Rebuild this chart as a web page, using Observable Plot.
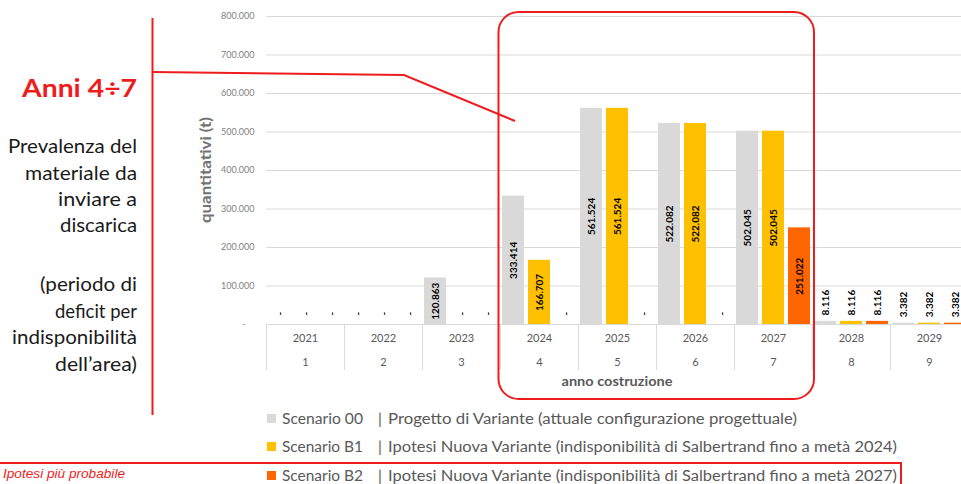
<!DOCTYPE html>
<html>
<head>
<meta charset="utf-8">
<script src="https://cdn.jsdelivr.net/npm/d3@7"></script>
<script src="https://cdn.jsdelivr.net/npm/@observablehq/plot@0.6"></script>
<style>
  html, body { margin: 0; padding: 0; background: #fff; overflow: hidden; width: 961px; height: 484px; }
  #wrap { position: relative; width: 961px; height: 484px; overflow: hidden; font-family: Lato, sans-serif; }
  #chart { position: absolute; left: 0; top: 0; width: 972px; }
  #chart svg { max-width: none !important; }
  #overlay { position: absolute; left: 0; top: 0; pointer-events: none; }
</style>
</head>
<body>
<div id="wrap">
  <div id="chart"></div>
  <svg id="overlay" width="961" height="484"></svg>
</div>
<script>
// ---------- data ----------
const years = ["2021", "2022", "2023", "2024", "2025", "2026", "2027", "2028", "2029"];
const yearIndex = ["1", "2", "3", "4", "5", "6", "7", "8", "9"];
const scenarios = ["Scenario 00", "Scenario B1", "Scenario B2"];
const scenarioDesc = [
  "Progetto di Variante (attuale configurazione progettuale)",
  "Ipotesi Nuova Variante (indisponibilità di Salbertrand fino a metà 2024)",
  "Ipotesi Nuova Variante (indisponibilità di Salbertrand fino a metà 2027)"
];
const colors = ["#d9d9d9", "#ffc000", "#ff6600"];
const s00 = [0, 0, 120863, 333414, 561524, 522082, 502045, 8116, 3382];
const sB1 = [0, 0, 0, 166707, 561524, 522082, 502045, 8116, 3382];
const sB2 = [0, 0, 0, 0, 0, 0, 251022, 8116, 3382];
const yTicks = [0, 100000, 200000, 300000, 400000, 500000, 600000, 700000, 800000];
const highlightYears = ["2024", "2027"];
const yLabel = "quantitativi (t)";
const xLabel = "anno costruzione";
const noteTitle = "Anni 4÷7";
const noteLines = ["Prevalenza del", "materiale da", "inviare a", "discarica", "", "(periodo di", "deficit per", "indisponibilità", "dell’area)"];
const probableNote = "Ipotesi più probabile";

const series = [s00, sB1, sB2];
const data = years.flatMap((yr, i) => series.map((arr, j) => ({year: yr, scenario: scenarios[j], value: arr[i]})));

const it = d3.formatLocale({decimal: ",", thousands: ".", grouping: [3], currency: ["€", ""]});
const fmt = it.format(",d");

// ---------- chart ----------
const W = 972, H = 400, ML = 262, MR = 0, MT = 16, MB = 76;
const lbl = {fx: "year", x: "scenario", rotate: -90, fontSize: 10, fontWeight: "bold", fill: "#000"};

const plot = Plot.plot({
  width: W, height: H,
  marginLeft: ML, marginRight: MR, marginTop: MT, marginBottom: MB,
  style: {fontFamily: "Lato, sans-serif", background: "transparent", overflow: "visible", maxWidth: "none"},
  fx: {domain: years, padding: 0, label: null},
  x: {domain: scenarios, paddingInner: 0.16, paddingOuter: 0.08, axis: null},
  y: {domain: [0, 800000], label: null},
  color: {domain: scenarios, range: colors},
  marks: [
    Plot.gridY(yTicks, {stroke: "#d9d9d9", strokeOpacity: 1}),
    Plot.axisY(yTicks, {tickSize: 0, tickPadding: 12, fontSize: 9, color: "#7f7f7f", label: null,
      tickFormat: d => d === 0 ? "-\u2002\u2002" : fmt(d)}),
    Plot.axisFx({anchor: "bottom", tickSize: 0, tickPadding: 10, fontSize: 11, color: "#595959", label: null}),
    Plot.axisFx({anchor: "bottom", tickSize: 0, tickPadding: 34, fontSize: 11, color: "#595959", label: null,
      tickFormat: d => yearIndex[years.indexOf(d)]}),
    Plot.ruleY([0], {stroke: "#d9d9d9"}),
    Plot.barY(data, {fx: "year", x: "scenario", y: "value", fill: "scenario"}),
    Plot.text(data.filter(d => d.value >= 50000), {...lbl, y: d => d.value / 2, text: d => fmt(d.value)}),
    Plot.text(data.filter(d => d.value > 0 && d.value < 50000), {...lbl, y: "value", text: d => fmt(d.value), textAnchor: "start", dy: -6}),
    Plot.text(data.filter(d => d.value === 0), {...lbl, y: "value", text: () => "-", textAnchor: "start", dy: -9})
  ]
});
plot.style.maxWidth = "none";
document.getElementById("chart").appendChild(plot);

// ---------- overlay annotations (positions derived from the chart scales where relevant) ----------
const fxS = plot.scale("fx");
const yS = plot.scale("y");
const bw = fxS.bandwidth;
const y0 = yS.apply(0);
const ov = d3.select("#overlay");
const RED = "#ee1c1c";

// category separators in the axis table
years.forEach(yr => {
  const x = Math.round(fxS.apply(yr)) + 0.5;
  ov.append("line").attr("x1", x).attr("x2", x).attr("y1", y0).attr("y2", y0 + 46)
    .attr("stroke", "#d9d9d9").attr("stroke-width", 1);
});

// x axis title
const [r0, r1] = fxS.range;
ov.append("text").attr("x", (r0 + r1) / 2).attr("y", 386).attr("text-anchor", "middle")
  .attr("font-size", 13).attr("font-weight", "bold").attr("fill", "#595959")
  .attr("textLength", 111).attr("lengthAdjust", "spacingAndGlyphs").text(xLabel);

// y axis title
ov.append("text").attr("transform", "translate(211,170) rotate(-90)").attr("text-anchor", "middle")
  .attr("font-size", 15).attr("font-weight", "bold").attr("fill", "#737373")
  .attr("textLength", 106).attr("lengthAdjust", "spacingAndGlyphs").text(yLabel);

// highlight rounded rectangle
const hx1 = fxS.apply(highlightYears[0]) - 1.5;
const hx2 = fxS.apply(highlightYears[1]) + bw + 2;
ov.append("rect").attr("x", hx1).attr("y", 12).attr("width", hx2 - hx1).attr("height", 387)
  .attr("rx", 20).attr("ry", 20).attr("fill", "none").attr("stroke", RED).attr("stroke-width", 2);

// left bracket & pointer line
ov.append("line").attr("x1", 152.5).attr("x2", 152.5).attr("y1", 18).attr("y2", 415)
  .attr("stroke", RED).attr("stroke-width", 2);
ov.append("polyline").attr("points", "152,72 404,75 515,121").attr("fill", "none")
  .attr("stroke", RED).attr("stroke-width", 2);

// left note
ov.append("text").attr("x", 137).attr("y", 97).attr("text-anchor", "end")
  .attr("font-size", 24).attr("font-weight", "bold").attr("fill", RED)
  .attr("textLength", 115).attr("lengthAdjust", "spacingAndGlyphs").text(noteTitle);
const noteBase = [153, 180, 206, 232, 0, 291, 318, 344, 371];
const noteLen = [129, 112, 79, 77, 0, 97, 82, 125, 82];
noteLines.forEach((t, i) => {
  if (!t) return;
  ov.append("text").attr("x", 137).attr("y", noteBase[i]).attr("text-anchor", "end")
    .attr("font-size", 20).attr("fill", "#1a1a1a")
    .attr("textLength", noteLen[i]).attr("lengthAdjust", "spacingAndGlyphs").text(t);
});

// legend
const legBase = [424, 452, 481];
const descLen = [409, 509, 509];
scenarios.forEach((s, i) => {
  ov.append("rect").attr("x", 267).attr("y", legBase[i] - 10).attr("width", 9).attr("height", 9).attr("fill", colors[i]);
  ov.append("text").attr("x", 282).attr("y", legBase[i]).attr("font-size", 15.5).attr("fill", "#595959")
    .attr("textLength", 81).attr("lengthAdjust", "spacingAndGlyphs").text(s);
  ov.append("text").attr("x", 378).attr("y", legBase[i]).attr("font-size", 15.5).attr("fill", "#595959").text("|");
  ov.append("text").attr("x", 388).attr("y", legBase[i]).attr("font-size", 15.5).attr("fill", "#595959")
    .attr("textLength", descLen[i]).attr("lengthAdjust", "spacingAndGlyphs").text(scenarioDesc[i]);
});

// "most probable" box
ov.append("polyline").attr("points", "-5,463 901,463 901,490").attr("fill", "none")
  .attr("stroke", RED).attr("stroke-width", 2);
ov.append("text").attr("x", 125).attr("y", 478).attr("text-anchor", "end")
  .attr("font-size", 13.5).attr("font-style", "italic").attr("font-family", "'Liberation Sans', Arial, sans-serif")
  .attr("textLength", 122).attr("lengthAdjust", "spacingAndGlyphs")
  .attr("fill", RED).text(probableNote);
</script>
</body>
</html>
